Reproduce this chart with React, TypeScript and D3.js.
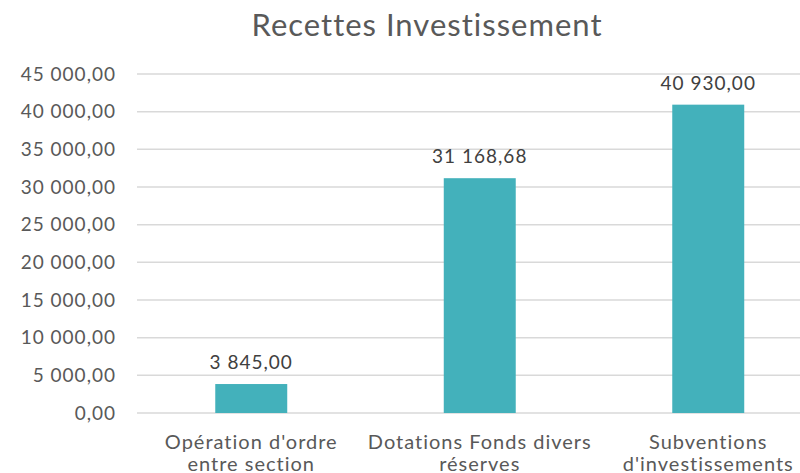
import React from "react";
import * as d3 from "d3";

const categories: string[][] = [
  ["Opération d'ordre", "entre section"],
  ["Dotations Fonds divers", "réserves"],
  ["Subventions", "d'investissements"],
];
const values: number[] = [3845, 31168.68, 40930];
const yTicks: number[] = [0, 5000, 10000, 15000, 20000, 25000, 30000, 35000, 40000, 45000];
const title = "Recettes Investissement";

const W = 800;
const H = 473;
const FONT = "Lato, 'Open Sans', sans-serif";

function fmt(v: number): string {
  const s = v.toFixed(2);
  const [int, dec] = s.split(".");
  const grouped = int.replace(/\B(?=(\d{3})+(?!\d))/g, " ");
  return grouped + "," + dec;
}

export default function App() {
  const left = 137;
  const bandW = 228.5;
  const x = d3
    .scaleBand<number>()
    .domain(d3.range(categories.length))
    .range([left, left + bandW * categories.length])
    .paddingInner(0.685)
    .paddingOuter(0.3425);
  const y = d3.scaleLinear().domain([0, 45000]).range([413, 74]);

  return (
    <svg width={W} height={H} style={{ position: "absolute", left: 0, top: 0, background: "#fff" }}>
      <text x={427} y={36} textAnchor="middle" fontFamily={FONT} fontSize={31} letterSpacing={1} fill="#595959">
        {title}
      </text>
      {yTicks.map((t) => (
        <g key={t}>
          <line x1={left} x2={W} y1={y(t)} y2={y(t)} stroke="#d9d9d9" strokeWidth={1.5} />
          <text x={116} y={y(t)} dy="0.35em" textAnchor="end" fontFamily={FONT} fontSize={19} letterSpacing={1} fill="#595959">
            {fmt(t)}
          </text>
        </g>
      ))}
      {values.map((v, i) => {
        const bx = x(i)!;
        const bw = x.bandwidth();
        return (
          <g key={i}>
            <rect x={bx} y={y(v)} width={bw} height={y(0) - y(v)} fill="#43b1bb" />
            <text x={bx + bw / 2} y={y(v) - 15} textAnchor="middle" fontFamily={FONT} fontSize={19} letterSpacing={1} fill="#404040">
              {fmt(v)}
            </text>
            {categories[i].map((line, j) => (
              <text key={j} x={bx + bw / 2} y={449 + j * 22} textAnchor="middle" fontFamily={FONT} fontSize={20} letterSpacing={1} fill="#595959">
                {line}
              </text>
            ))}
          </g>
        );
      })}
    </svg>
  );
}
